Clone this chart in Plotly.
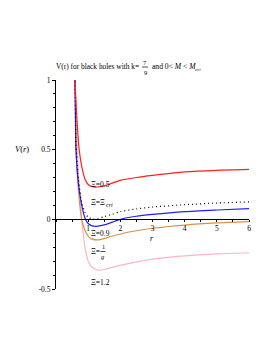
import plotly.graph_objects as go

# ---- data ----
r_red = [0.585, 0.6, 0.65, 0.72, 0.8, 0.9, 1.0, 1.1, 1.28, 1.5, 2.0, 2.5, 3.0, 4.0, 5.0, 6.0]
v_red = [1.08, 0.95, 0.72, 0.5, 0.38, 0.29, 0.25, 0.236, 0.232, 0.24, 0.28, 0.30, 0.315, 0.34, 0.352, 0.358]

r_crit = [0.585, 0.6, 0.62, 0.7, 0.8, 0.9, 1.0, 1.15, 1.3, 1.5, 1.75, 2.0, 2.5, 3.0, 4.0, 5.0, 6.0]
v_crit = [1.08, 0.85, 0.55, 0.28, 0.12, 0.05, 0.015, 0.002, 0.005, 0.02, 0.036, 0.055, 0.075, 0.088, 0.105, 0.117, 0.125]

r_blue = [0.585, 0.6, 0.62, 0.7, 0.8, 0.9, 1.0, 1.1, 1.25, 1.5, 1.75, 2.0, 2.5, 3.0, 4.0, 5.0, 6.0]
v_blue = [1.08, 0.82, 0.5, 0.25, 0.1, 0.01, -0.03, -0.045, -0.05, -0.04, -0.02, 0.0, 0.022, 0.035, 0.055, 0.067, 0.077]

r_orange = [0.585, 0.6, 0.63, 0.7, 0.8, 0.9, 1.0, 1.1, 1.3, 1.5, 1.7, 2.0, 2.5, 3.0, 4.0, 5.0, 6.0]
v_orange = [1.08, 0.85, 0.5, 0.2, 0.0, -0.08, -0.12, -0.14, -0.148, -0.138, -0.123, -0.105, -0.082, -0.064, -0.041, -0.026, -0.017]

r_pink = [0.585, 0.6, 0.66, 0.72, 0.8, 0.9, 1.0, 1.1, 1.3, 1.5, 1.75, 2.0, 2.5, 3.0, 4.0, 5.0, 6.0]
v_pink = [1.1, 0.92, 0.5, 0.25, 0.0, -0.2, -0.3, -0.34, -0.365, -0.36, -0.345, -0.33, -0.305, -0.285, -0.262, -0.248, -0.24]

x_ticks = [1, 2, 3, 4, 5, 6]
y_ticks = [-0.5, 0, 0.5, 1]
y_tick_text = ["-0.5", "0", "0.5", "1"]

series = [
    (r_pink, v_pink, "#ffb6c1", "solid"),
    (r_orange, v_orange, "#d9904a", "solid"),
    (r_blue, v_blue, "#2020ff", "solid"),
    (r_crit, v_crit, "#000000", "1px,3px"),
    (r_red, v_red, "#ff2020", "solid"),
]

fig = go.Figure()
for rx, vy, col, dash in series:
    fig.add_trace(go.Scatter(x=rx, y=vy, mode="lines",
                             line=dict(color=col, width=1.2, dash=dash, shape="spline", smoothing=0.6),
                             showlegend=False, hoverinfo="skip"))

# page body has an 8px margin in the browser; compensate
OFF = 8
L, R, T, B = 56, 249, 80, 289
W, H = 270, 350


def px(x):
    return (x - L) / (R - L)


def py(y):
    return (B - y) / (B - T)


serif = "Liberation Serif, Times New Roman, serif"
anns = []


def txt(x, y, s, size=7.5, xanchor="left", yanchor="middle"):
    anns.append(dict(x=px(x), y=py(y), xref="paper", yref="paper", text=s, showarrow=False,
                     xanchor=xanchor, yanchor=yanchor, borderpad=0,
                     font=dict(family=serif, size=size, color="black")))


# title
txt(140, 66, "V(r) for black holes with k=", 7.4, xanchor="right")
txt(145, 62, "7", 6.5, xanchor="center")
txt(145, 72, "9", 6.5, xanchor="center")
txt(151, 66, "and 0&lt; <i>M</i> &lt; <i>M</i>", 7.6)
txt(194, 69.5, "<i>cri</i>", 5)

# curve labels
txt(90, 184, "Ξ=0.5", 7.5)
txt(90, 202, "Ξ=Ξ", 7.5)
txt(105, 204.5, "<i>cri</i>", 6)
txt(90, 233, "Ξ=0.9", 7.5)
txt(90, 251, "Ξ=", 7.5)
txt(103, 246.5, "1", 6.5, xanchor="center")
txt(103, 256.5, "<i>g</i>", 6.5, xanchor="center")
txt(90, 282, "Ξ=1.2", 7.5)

# axis titles
txt(152, 238, "<i>r</i>", 8, xanchor="center")
txt(22, 149, "<i>V</i>(<i>r</i>)", 8.5, xanchor="center")

fig.update_layout(
    width=W - OFF, height=H - OFF,
    margin=dict(l=L - OFF, r=W - R, t=T - OFF, b=H - B, autoexpand=False),
    plot_bgcolor="white", paper_bgcolor="white",
    annotations=anns,
    shapes=[dict(type="line", xref="paper", yref="paper", x0=px(142), x1=px(148), y0=py(67), y1=py(67),
                 line=dict(color="black", width=0.7)),
            dict(type="line", xref="paper", yref="paper", x0=px(100.5), x1=px(105.5), y0=py(251.5), y1=py(251.5),
                 line=dict(color="black", width=0.7))],
    xaxis=dict(range=[0, 6], showgrid=False, zeroline=False, showline=True, linecolor="black", linewidth=1,
               anchor="free", position=1 / 3, tickvals=x_ticks, ticks="outside", ticklen=2, tickcolor="black",
               tickfont=dict(family=serif, size=7.5, color="black"), automargin=False,
               minor=dict(dtick=0.5, ticks="outside", ticklen=2, tickcolor="black", showgrid=False)),
    yaxis=dict(range=[-0.5, 1], showgrid=False, zeroline=False, showline=True, linecolor="black", linewidth=1,
               tickvals=y_ticks, ticktext=y_tick_text, ticks="outside", ticklen=3, tickcolor="black",
               tickfont=dict(family=serif, size=7.5, color="black"), automargin=False,
               minor=dict(dtick=0.1, tick0=0, ticks="outside", ticklen=2, tickcolor="black", showgrid=False)),
)

fig.write_html("out.html")
